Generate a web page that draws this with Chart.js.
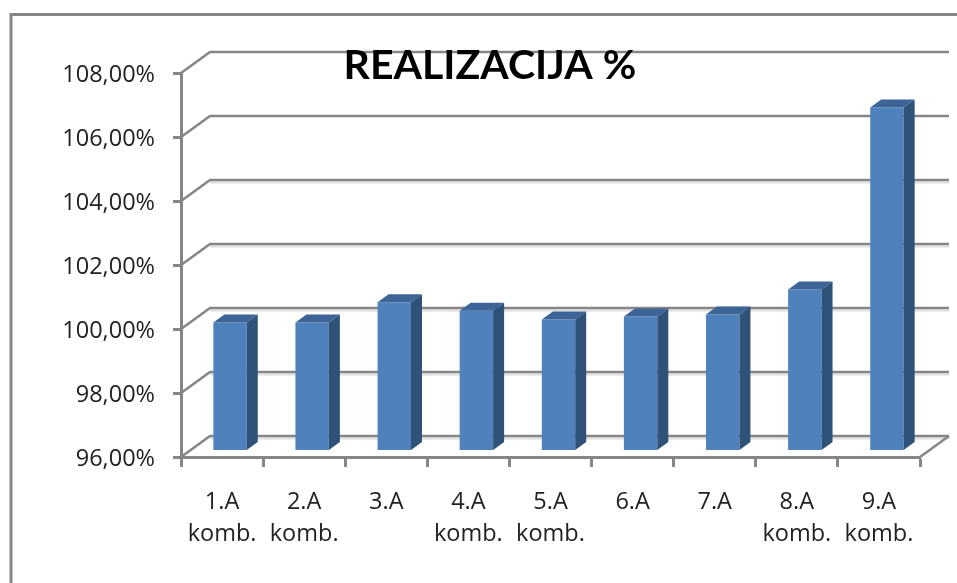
<!DOCTYPE html>
<html lang="hr">

<head>
    <meta charset="UTF-8">
    <title>Realizacija %</title>
    <script src="https://cdn.jsdelivr.net/npm/chart.js"></script>
    <style>
        html, body { margin: 0; padding: 0; background: #fff; overflow: hidden; }
        canvas { display: block; }
    </style>
</head>

<body>
    <canvas id="barChart" width="957" height="583"></canvas>

    <script>
        const chartTitle = 'REALIZACIJA %';
        const categories = [['1.A', 'komb.'], ['2.A', 'komb.'], ['3.A'], ['4.A', 'komb.'], ['5.A', 'komb.'], ['6.A'], ['7.A'], ['8.A', 'komb.'], ['9.A', 'komb.']];
        const realizacija = [100.00, 100.00, 100.63, 100.37, 100.09, 100.19, 100.25, 101.03, 106.72];
        const yTicks = [96, 98, 100, 102, 104, 106, 108];

        const axisGrey = '#868686';
        const wallDepth = { x: 29, y: -21 };   // back wall against the front plane
        const barShift = { x: 8, y: -6.5 };    // bars stand a bit behind the front plane
        const barDepth = { x: 11, y: -8 };

        const pseudo3d = {
            id: 'pseudo3d',
            // walls go in here so the title and the axes land on top of them
            beforeDraw(chart) {
                let ctx = chart.ctx;
                let { left, right } = chart.chartArea;
                let y = chart.scales.y;
                ctx.save();
                ctx.fillStyle = '#fff';
                ctx.fillRect(0, 0, chart.width, chart.height);
                // outer frame
                ctx.strokeStyle = axisGrey;
                ctx.lineWidth = 3;
                ctx.beginPath();
                ctx.moveTo(11, chart.height);
                ctx.lineTo(11, 14.5);
                ctx.lineTo(chart.width, 14.5);
                ctx.stroke();

                yTicks.forEach(function (tick) {
                    let py = y.getPixelForValue(tick);
                    // soft shadow under the wall line
                    if (tick < 106) {
                        ctx.strokeStyle = '#dedede';
                        ctx.lineWidth = 2;
                        ctx.beginPath();
                        ctx.moveTo(left + wallDepth.x, py + wallDepth.y + 2.5);
                        ctx.lineTo(right + wallDepth.x, py + wallDepth.y + 2.5);
                        ctx.stroke();
                    }
                    ctx.strokeStyle = axisGrey;
                    ctx.lineWidth = 2.5;
                    ctx.beginPath();
                    ctx.moveTo(left, py);
                    ctx.lineTo(left + wallDepth.x, py + wallDepth.y);
                    ctx.lineTo(right + wallDepth.x, py + wallDepth.y);
                    ctx.stroke();
                });
                // floor edge on the right
                let floorY = y.getPixelForValue(yTicks[0]);
                ctx.beginPath();
                ctx.moveTo(right, floorY);
                ctx.lineTo(right + wallDepth.x, floorY + wallDepth.y);
                ctx.stroke();
                ctx.restore();
            },
            beforeDatasetsDraw(chart) {
                chart.ctx.save();
                chart.ctx.translate(barShift.x, barShift.y);
            },
            afterDatasetsDraw(chart) {
                let ctx = chart.ctx;
                chart.getDatasetMeta(0).data.forEach(function (bar) {
                    let x0 = bar.x - bar.width / 2;
                    let x1 = bar.x + bar.width / 2;
                    // top face
                    ctx.fillStyle = '#3c6496';
                    ctx.beginPath();
                    ctx.moveTo(x0, bar.y);
                    ctx.lineTo(x0 + barDepth.x, bar.y + barDepth.y);
                    ctx.lineTo(x1 + barDepth.x, bar.y + barDepth.y);
                    ctx.lineTo(x1, bar.y);
                    ctx.closePath();
                    ctx.fill();
                    // side face
                    ctx.fillStyle = '#2f5279';
                    ctx.beginPath();
                    ctx.moveTo(x1, bar.y);
                    ctx.lineTo(x1 + barDepth.x, bar.y + barDepth.y);
                    ctx.lineTo(x1 + barDepth.x, bar.base + barDepth.y);
                    ctx.lineTo(x1, bar.base);
                    ctx.closePath();
                    ctx.fill();
                });
                ctx.restore();
            }
        };

        new Chart(document.getElementById('barChart'), {
            type: 'bar',
            data: {
                labels: categories,
                datasets: [{
                    label: 'Realizacija',
                    data: realizacija,
                    base: yTicks[0],
                    backgroundColor: '#4f81bd',
                    categoryPercentage: 1,
                    barPercentage: 0.407
                }]
            },
            options: {
                responsive: false,
                animation: false,
                layout: { padding: { left: 60, right: 37, top: 0, bottom: 0 } },
                plugins: {
                    legend: { display: false },
                    tooltip: { enabled: false },
                    title: {
                        display: true,
                        text: chartTitle,
                        color: '#000',
                        font: { family: 'Lato', size: 41, weight: 'bold', lineHeight: '14px' },
                        padding: { top: 59, bottom: 0 }
                    }
                },
                scales: {
                    x: {
                        afterFit(scale) { scale.height = 126; },
                        border: { color: axisGrey, width: 3 },
                        grid: { drawOnChartArea: false, color: axisGrey, tickLength: 10, tickWidth: 3 },
                        ticks: {
                            color: '#222',
                            padding: 19,
                            autoSkip: false,
                            maxRotation: 0,
                            font: { family: 'Open Sans', size: 23.5, lineHeight: '32px' }
                        }
                    },
                    y: {
                        min: yTicks[0],
                        max: yTicks[yTicks.length - 1],
                        afterFit(scale) { scale.width = 121; },
                        border: { color: axisGrey, width: 3 },
                        grid: { drawOnChartArea: false, color: axisGrey, tickLength: 8, tickWidth: 3 },
                        ticks: {
                            stepSize: 2,
                            color: '#222',
                            padding: 18,
                            labelOffset: 2,
                            font: { family: 'Open Sans', size: 23.5 },
                            callback: function (value) {
                                return value.toFixed(2).replace('.', ',') + '%';
                            }
                        }
                    }
                }
            },
            plugins: [pseudo3d]
        });
    </script>
</body>

</html>
